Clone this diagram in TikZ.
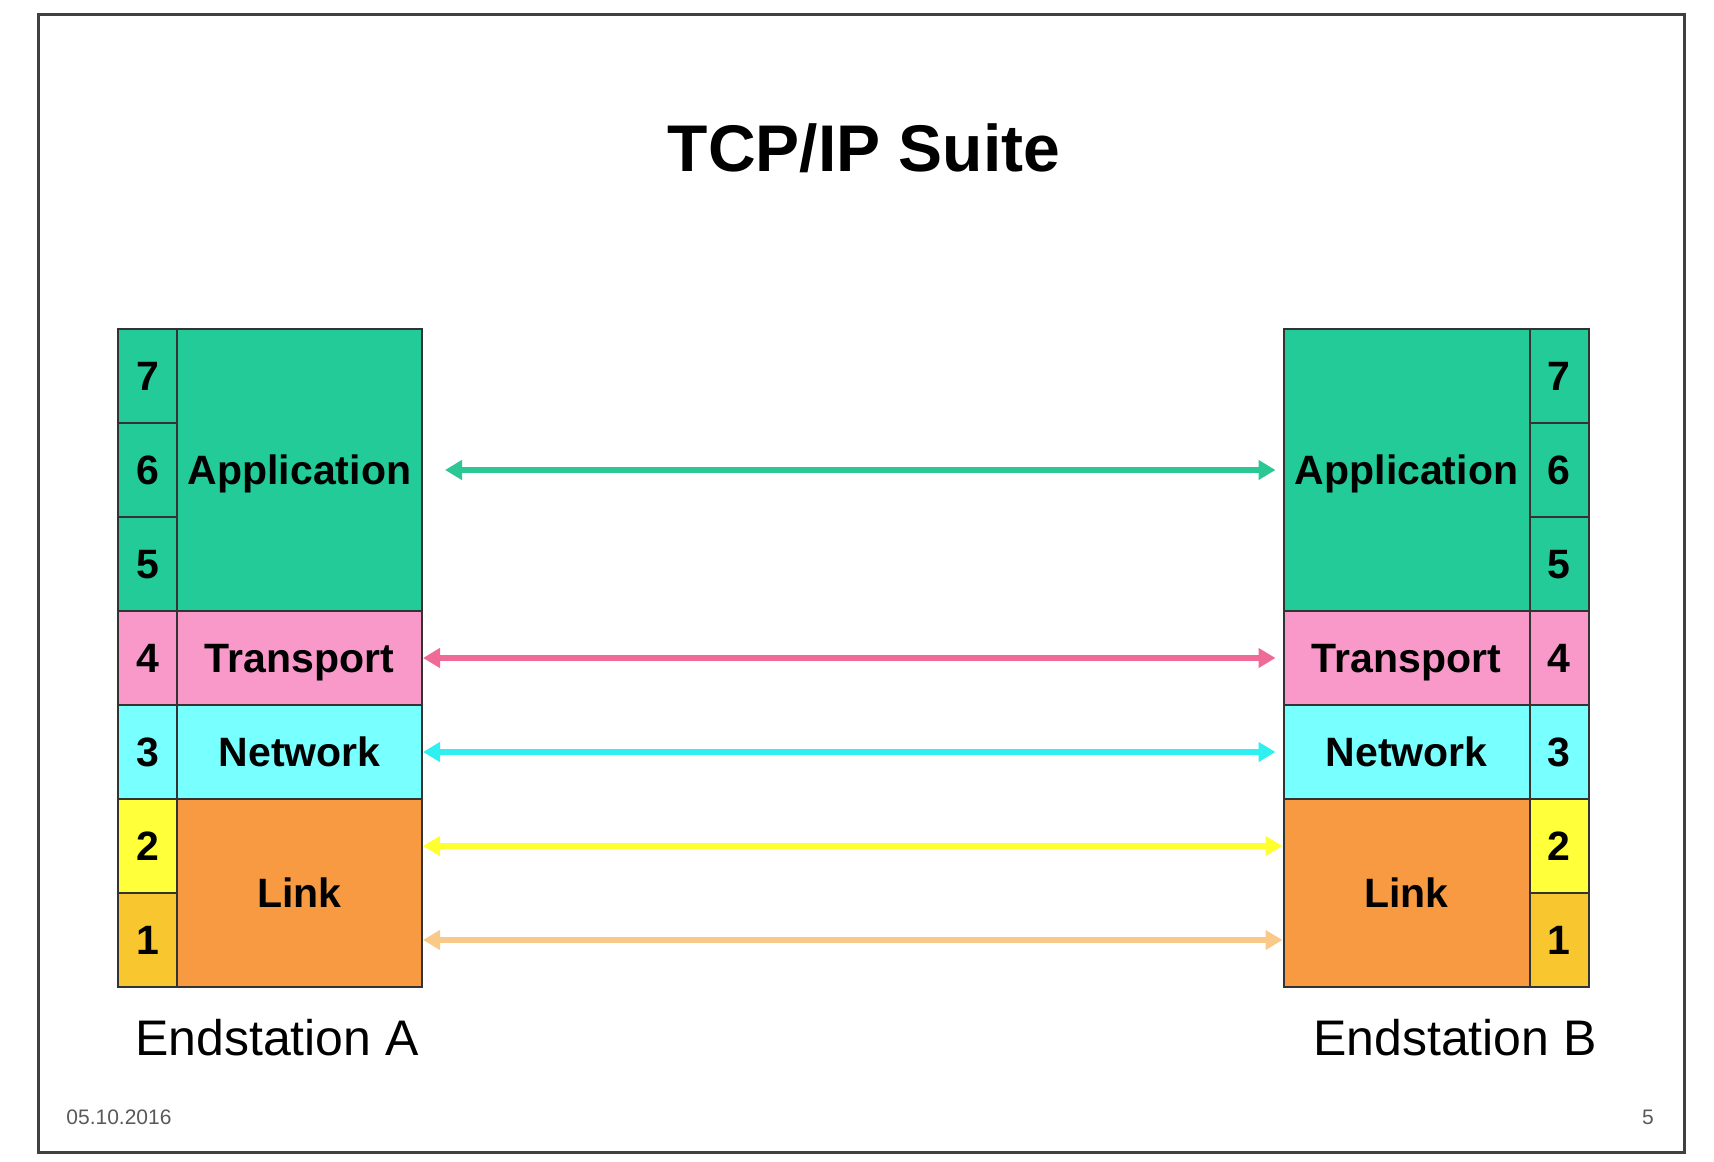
\documentclass[tikz,border=0pt]{standalone}
\usepackage{fontspec}
\setmainfont{Liberation Sans}
\usetikzlibrary{arrows.meta}
\definecolor{appgreen}{HTML}{22CB98}
\definecolor{trpink}{HTML}{F899CA}
\definecolor{netcyan}{HTML}{78FFFF}
\definecolor{linkorange}{HTML}{F89A42}
\definecolor{ltwoyellow}{HTML}{FFFF3A}
\definecolor{lonegold}{HTML}{F8C72F}
\definecolor{arrgreen}{HTML}{2BC896}
\definecolor{arrpink}{HTML}{F06A98}
\definecolor{arrcyan}{HTML}{2EF0F0}
\definecolor{arryellow}{HTML}{FFFF30}
\definecolor{arrorange}{HTML}{F9C98A}
\tikzset{
  layerbox/.style={draw=black!80, line width=1pt, inner sep=0pt, anchor=center,
    text height=14pt, text depth=0pt,
    font=\fontsize{20.5}{24}\selectfont\bfseries},
  numbox/.style={layerbox, minimum width=29.5pt, minimum height=47pt},
  protoarrow/.style={line width=2.8pt, {Triangle[length=8.5pt,width=9.5pt]}-{Triangle[length=8.5pt,width=9.5pt]}},
}
\begin{document}
\begin{tikzpicture}[x=0.5pt,y=-0.5pt]
\useasboundingbox (0,0) rectangle (1714,1162);
% frame
\draw[line width=1.5pt, draw=black!75] (38,14) rectangle (1684,1152);
% title
\node[font=\fontsize{33}{40}\selectfont\bfseries] (title) at (864,148) {TCP/IP Suite};

% ---- Endstation A ----
\node[numbox, fill=appgreen]   (a7) at (147.5,376) {7};
\node[numbox, fill=appgreen]   (a6) at (147.5,470) {6};
\node[numbox, fill=appgreen]   (a5) at (147.5,564) {5};
\node[numbox, fill=trpink]     (a4) at (147.5,658) {4};
\node[numbox, fill=netcyan]    (a3) at (147.5,752) {3};
\node[numbox, fill=ltwoyellow] (a2) at (147.5,846) {2};
\node[numbox, fill=lonegold]   (a1) at (147.5,940) {1};
\node[layerbox, fill=appgreen,   minimum width=122.5pt, minimum height=141pt] (appA)  at (299.5,470) {Application};
\node[layerbox, fill=trpink,     minimum width=122.5pt, minimum height=47pt]  (trA)   at (299.5,658) {Transport};
\node[layerbox, fill=netcyan,    minimum width=122.5pt, minimum height=47pt]  (netA)  at (299.5,752) {Network};
\node[layerbox, fill=linkorange, minimum width=122.5pt, minimum height=94pt]  (linkA) at (299.5,893) {Link};

% ---- Endstation B ----
\node[numbox, fill=appgreen]   (b7) at (1559,376) {7};
\node[numbox, fill=appgreen]   (b6) at (1559,470) {6};
\node[numbox, fill=appgreen]   (b5) at (1559,564) {5};
\node[numbox, fill=trpink]     (b4) at (1559,658) {4};
\node[numbox, fill=netcyan]    (b3) at (1559,752) {3};
\node[numbox, fill=ltwoyellow] (b2) at (1559,846) {2};
\node[numbox, fill=lonegold]   (b1) at (1559,940) {1};
\node[layerbox, fill=appgreen,   minimum width=123pt, minimum height=141pt] (appB)  at (1406.5,470) {Application};
\node[layerbox, fill=trpink,     minimum width=123pt, minimum height=47pt]  (trB)   at (1406.5,658) {Transport};
\node[layerbox, fill=netcyan,    minimum width=123pt, minimum height=47pt]  (netB)  at (1406.5,752) {Network};
\node[layerbox, fill=linkorange, minimum width=123pt, minimum height=94pt]  (linkB) at (1406.5,893) {Link};

% ---- arrows ----
\draw[protoarrow, arrgreen]  ([xshift=11pt]appA.east |- a6.center) -- ([xshift=-3.5pt]appB.west |- a6.center);
\draw[protoarrow, arrpink]   (trA.east) -- ([xshift=-3.5pt]trB.west);
\draw[protoarrow, arrcyan]   (netA.east) -- ([xshift=-3.5pt]netB.west);
\draw[protoarrow, arryellow] (linkA.east |- a2.center) -- (linkB.west |- a2.center);
\draw[protoarrow, arrorange] (linkA.east |- a1.center) -- (linkB.west |- a1.center);

% ---- captions ----
\node[font=\fontsize{25}{30}\selectfont] (capA) at (277,1038) {Endstation A};
\node[font=\fontsize{25}{30}\selectfont] (capB) at (1455,1038) {Endstation B};
\node[font=\fontsize{10.5}{12}\selectfont, text=black!65, anchor=west, inner sep=0pt] (date) at (66,1117) {05.10.2016};
\node[font=\fontsize{10.5}{12}\selectfont, text=black!65] (page) at (1648,1117) {5};
\end{tikzpicture}
\end{document}
